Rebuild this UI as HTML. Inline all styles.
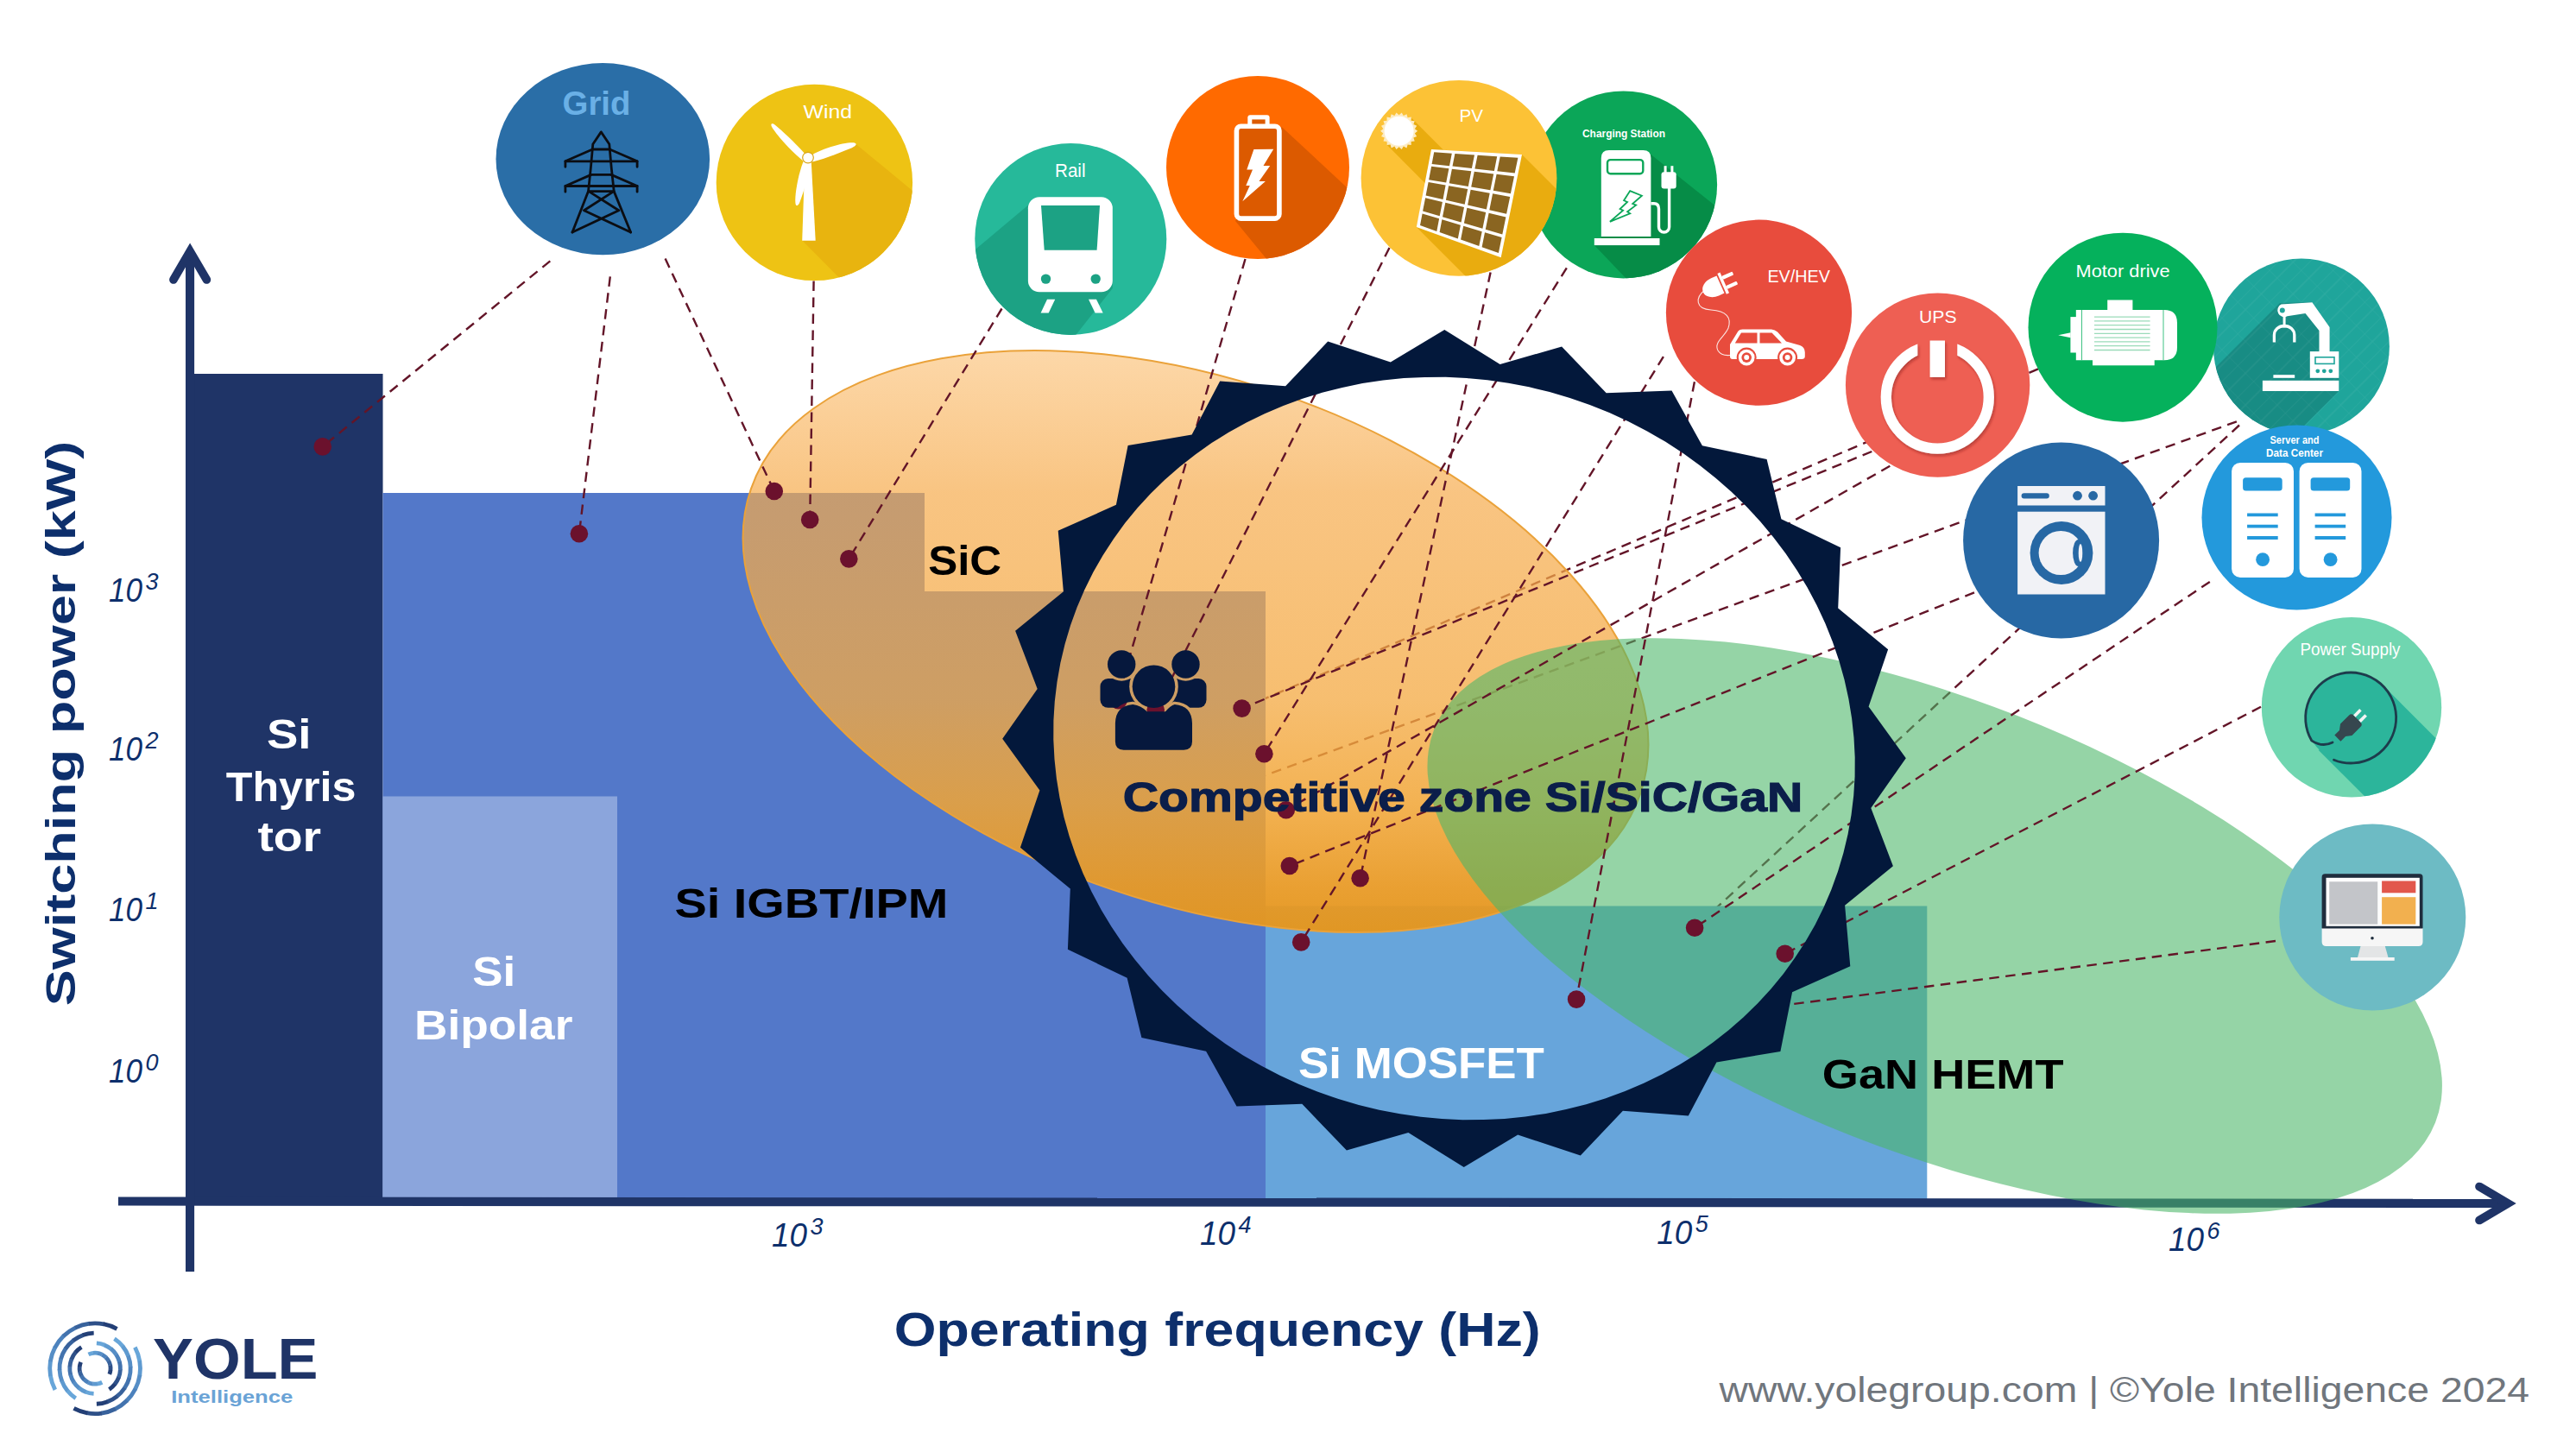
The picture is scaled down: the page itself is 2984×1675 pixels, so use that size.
<!DOCTYPE html>
<html><head><meta charset="utf-8"><title>Power device positioning</title>
<style>html,body{margin:0;padding:0;background:#fff;}body{width:2984px;height:1675px;overflow:hidden;font-family:"Liberation Sans",sans-serif;}svg{display:block}</style>
</head><body>
<svg width="2984" height="1675" viewBox="0 0 2984 1675"><defs><linearGradient id="gsic" gradientUnits="userSpaceOnUse" x1="0" y1="405" x2="0" y2="1082" gradientTransform="rotate(-18.92 1385 743)">
<stop offset="0" stop-color="rgb(250,176,82)" stop-opacity="0.50"/>
<stop offset="0.245" stop-color="rgb(246,171,76)" stop-opacity="0.70"/>
<stop offset="0.6" stop-color="rgb(244,170,68)" stop-opacity="0.765"/>
<stop offset="0.775" stop-color="rgb(241,165,53)" stop-opacity="0.855"/>
<stop offset="0.92" stop-color="rgb(232,154,38)" stop-opacity="0.945"/>
<stop offset="1" stop-color="rgb(228,150,30)" stop-opacity="0.97"/>
</linearGradient><mask id="pm" maskUnits="userSpaceOnUse" x="1260" y="740" width="160" height="140"><rect x="1260" y="740" width="160" height="140" fill="#fff"/><circle cx="1299.2" cy="769.5" r="19.3" fill="#000"/><circle cx="1373.5" cy="769.5" r="19.3" fill="#000"/><circle cx="1336.5" cy="795.2" r="28.3" fill="#000"/><path d="M1301.6,868.7 Q1291.9,868.7 1291.9,859.1 L1291.9,837.8 Q1292.4,817.4 1312.3,816 Q1322,817.4 1328.7,824.2 L1350,824.2 Q1355.8,817.4 1360.7,816 Q1380.5,817.4 1381,837.8 L1381,859.1 Q1381,868.7 1371.3,868.7 Z" fill="#000" stroke="#000" stroke-width="6.6"/></mask><clipPath id="cwind"><circle cx="943.4" cy="211.4" r="113.7"/></clipPath>
<clipPath id="crail"><circle cx="1240.3" cy="277" r="111"/></clipPath>
<clipPath id="cbat"><circle cx="1457" cy="194" r="106"/></clipPath><clipPath id="cchg"><circle cx="1880.6" cy="213.9" r="108.5"/></clipPath>
<clipPath id="cpv"><circle cx="1690" cy="206.3" r="113.4"/></clipPath>
<filter id="shd" x="-20%" y="-20%" width="140%" height="140%"><feDropShadow dx="1.5" dy="2.5" stdDeviation="1.8" flood-color="#7a1f18" flood-opacity="0.45"/></filter>
<clipPath id="cupsgap"><path d="M2130,330 H2221.3 V430 H2267.3 V330 H2360 V560 H2130 Z"/></clipPath><clipPath id="crob"><circle cx="2665.9" cy="401.5" r="102"/></clipPath>
<pattern id="hatch" width="26" height="26" patternUnits="userSpaceOnUse" patternTransform="rotate(45)"><path d="M0,0 H26 M0,0 V26 M13,0 V26" stroke="#fff" stroke-opacity="0.07" stroke-width="1.2" fill="none"/></pattern>
<clipPath id="cps"><circle cx="2724" cy="819.2" r="104.2"/></clipPath></defs>
<g id="lines-under">
<line x1="2590.9" y1="488.3" x2="1466" y2="898" stroke="#631528" stroke-width="2.4" stroke-dasharray="11.5 7.5" fill="none" />
<line x1="2594" y1="492.5" x2="1962.9" y2="1075.1" stroke="#631528" stroke-width="2.4" stroke-dasharray="11.5 7.5" fill="none" />
<line x1="2361" y1="427.4" x2="1438.6" y2="820.6" stroke="#631528" stroke-width="2.4" stroke-dasharray="11.5 7.5" fill="none" />
</g>
<rect x="215" y="433" width="228.5" height="959" fill="#1f3467"/>
<polygon points="443.5,571 1071,571 1071,685 1466,685 1466,1392 443.5,1392" fill="#5378c9"/>
<rect x="443.5" y="922.5" width="271.5" height="469" fill="#8ba5dc"/>
<rect x="1466" y="1049.5" width="766.3" height="343" fill="#67a5db"/>
<line x1="137" y1="1391.5" x2="2906" y2="1393.9" stroke="#1f3467" stroke-width="10.2"/>
<rect x="215" y="295" width="10.1" height="1178" fill="#1f3467"/>
<polyline points="2872.1,1374.6 2905,1394 2872.1,1413.4" fill="none" stroke="#1f3467" stroke-width="9.9" stroke-linecap="round" stroke-linejoin="miter" stroke-miterlimit="10"/>
<polyline points="200.9,324 220.1,291 239.4,324" fill="none" stroke="#1f3467" stroke-width="9.6" stroke-linecap="round" stroke-linejoin="miter" stroke-miterlimit="10"/>
<ellipse cx="1385" cy="743" rx="544.5" ry="303.3" transform="rotate(18.92 1385 743)" fill="url(#gsic)" stroke="#eaa23a" stroke-width="2"/>
<ellipse cx="2241.2" cy="1072.5" rx="623" ry="261.5" transform="rotate(21.44 2241.2 1072.5)" fill="rgb(75,182,104)" fill-opacity="0.59"/>
<g id="lines">
<line x1="637.3" y1="302.4" x2="373.7" y2="517.4" stroke="#631528" stroke-width="2.4" stroke-dasharray="11.5 7.5" fill="none" />
<line x1="706.8" y1="320.4" x2="670.9" y2="618.2" stroke="#631528" stroke-width="2.4" stroke-dasharray="11.5 7.5" fill="none" />
<line x1="770.6" y1="299.5" x2="896.8" y2="569" stroke="#631528" stroke-width="2.4" stroke-dasharray="11.5 7.5" fill="none" />
<line x1="942.6" y1="325.6" x2="938.2" y2="602" stroke="#631528" stroke-width="2.4" stroke-dasharray="11.5 7.5" fill="none" />
<line x1="1160.5" y1="357.5" x2="983.3" y2="647.4" stroke="#631528" stroke-width="2.4" stroke-dasharray="11.5 7.5" fill="none" />
<line x1="1442.5" y1="300" x2="1291.8" y2="818.4" stroke="#631528" stroke-width="2.4" stroke-dasharray="11.5 7.5" fill="none" />
<line x1="1609.5" y1="287" x2="1338.7" y2="822.3" stroke="#631528" stroke-width="2.4" stroke-dasharray="11.5 7.5" fill="none" />
<line x1="1726.6" y1="315.4" x2="1575.6" y2="1017.3" stroke="#631528" stroke-width="2.4" stroke-dasharray="11.5 7.5" fill="none" />
<line x1="1814.8" y1="310.3" x2="1464.4" y2="873.2" stroke="#631528" stroke-width="2.4" stroke-dasharray="11.5 7.5" fill="none" />
<line x1="1926.9" y1="413.2" x2="1507.2" y2="1091.4" stroke="#631528" stroke-width="2.4" stroke-dasharray="11.5 7.5" fill="none" />
<line x1="1962.9" y1="442.3" x2="1826.1" y2="1157.6" stroke="#631528" stroke-width="2.4" stroke-dasharray="11.5 7.5" fill="none" />
<line x1="2168.3" y1="523" x2="1438.6" y2="820.6" stroke="#631528" stroke-width="2.4" stroke-dasharray="11.5 7.5" fill="none" />
<line x1="2189.3" y1="539.8" x2="1489.8" y2="938.2" stroke="#631528" stroke-width="2.4" stroke-dasharray="11.5 7.5" fill="none" />
<line x1="2287" y1="686.3" x2="1493.8" y2="1003" stroke="#631528" stroke-width="2.4" stroke-dasharray="11.5 7.5" fill="none" />
<line x1="2559.8" y1="673.9" x2="1963.1" y2="1074.7" stroke="#631528" stroke-width="2.4" stroke-dasharray="11.5 7.5" fill="none" />
<line x1="2619" y1="818.8" x2="2067.7" y2="1104.7" stroke="#631528" stroke-width="2.4" stroke-dasharray="11.5 7.5" fill="none" />
<line x1="2636" y1="1090" x2="2070" y2="1164" stroke="#631528" stroke-width="2.4" stroke-dasharray="11.5 7.5" fill="none" />
</g>
<g id="dots" fill="#6b112d">
<circle cx="373.7" cy="517.4" r="10.3"/>
<circle cx="670.9" cy="618.2" r="10.3"/>
<circle cx="896.8" cy="569" r="10.3"/>
<circle cx="938.2" cy="602" r="10.3"/>
<circle cx="983.3" cy="647.4" r="10.3"/>
<circle cx="1438.6" cy="820.6" r="10.3"/>
<circle cx="1464.4" cy="873.2" r="10.3"/>
<circle cx="1489.8" cy="938.2" r="10.3"/>
<circle cx="1493.8" cy="1003" r="10.3"/>
<circle cx="1575.6" cy="1017.3" r="10.3"/>
<circle cx="1507.2" cy="1091.4" r="10.3"/>
<circle cx="1826.1" cy="1157.6" r="10.3"/>
<circle cx="1963.1" cy="1074.7" r="10.3"/>
<circle cx="2067.7" cy="1104.7" r="10.3"/>
<circle cx="1295.5" cy="811.2" r="10.3"/>
<circle cx="1338.7" cy="822.3" r="10.3"/>
</g>
<path d="M1673.3,382.0 L1737.6,422.1 L1809.1,401.4 L1860.7,455.2 L1936.5,452.6 L1971.9,516.3 L2046.6,532.0 L2063.4,601.3 L2132.1,634.2 L2129.2,704.4 L2187.1,752.3 L2164.6,818.6 L2207.8,878.2 L2167.3,936.1 L2192.9,1003.3 L2137.1,1048.8 L2143.3,1119.2 L2076.1,1149.2 L2062.4,1217.9 L1988.4,1230.4 L1955.8,1292.6 L1879.9,1286.8 L1830.8,1338.4 L1758.2,1314.6 L1695.7,1352.0 L1631.4,1311.9 L1559.9,1332.6 L1508.3,1278.8 L1432.5,1281.4 L1397.1,1217.7 L1322.4,1202.0 L1305.6,1132.7 L1236.9,1099.8 L1239.8,1029.6 L1181.9,981.7 L1204.4,915.4 L1161.2,855.8 L1201.7,797.9 L1176.1,730.7 L1231.9,685.2 L1225.7,614.8 L1292.9,584.8 L1306.6,516.1 L1380.6,503.6 L1413.2,441.4 L1489.1,447.2 L1538.2,395.6 L1610.8,419.4Z M1674.6,436.8 L1698.9,437.9 L1723.1,440.2 L1747.3,443.7 L1771.3,448.3 L1795.0,454.0 L1818.5,460.9 L1841.6,468.9 L1864.2,478.0 L1886.4,488.2 L1908.0,499.4 L1929.0,511.6 L1949.3,524.8 L1968.9,538.9 L1987.7,554.0 L2005.7,569.8 L2022.8,586.5 L2039.0,604.0 L2054.2,622.2 L2068.4,641.0 L2081.5,660.5 L2093.6,680.5 L2104.5,701.1 L2114.3,722.1 L2122.9,743.5 L2130.3,765.3 L2136.5,787.3 L2141.4,809.5 L2145.1,831.9 L2147.5,854.4 L2148.7,876.9 L2148.6,899.4 L2147.2,921.8 L2144.5,944.1 L2140.6,966.2 L2135.4,987.9 L2129.0,1009.4 L2121.4,1030.4 L2112.6,1051.1 L2102.6,1071.2 L2091.4,1090.7 L2079.2,1109.6 L2065.9,1127.9 L2051.5,1145.5 L2036.1,1162.2 L2019.7,1178.2 L2002.5,1193.3 L1984.3,1207.6 L1965.4,1220.9 L1945.6,1233.2 L1925.2,1244.5 L1904.1,1254.8 L1882.4,1264.0 L1860.1,1272.2 L1837.4,1279.2 L1814.2,1285.1 L1790.7,1289.9 L1766.9,1293.5 L1742.9,1295.9 L1718.7,1297.1 L1694.4,1297.2 L1670.1,1296.1 L1645.9,1293.8 L1621.7,1290.3 L1597.7,1285.7 L1574.0,1280.0 L1550.5,1273.1 L1527.4,1265.1 L1504.8,1256.0 L1482.6,1245.8 L1461.0,1234.6 L1440.0,1222.4 L1419.7,1209.2 L1400.1,1195.1 L1381.3,1180.0 L1363.3,1164.2 L1346.2,1147.5 L1330.0,1130.0 L1314.8,1111.8 L1300.6,1093.0 L1287.5,1073.5 L1275.4,1053.5 L1264.5,1032.9 L1254.7,1011.9 L1246.1,990.5 L1238.7,968.7 L1232.5,946.7 L1227.6,924.5 L1223.9,902.1 L1221.5,879.6 L1220.3,857.1 L1220.4,834.6 L1221.8,812.2 L1224.5,789.9 L1228.4,767.8 L1233.6,746.1 L1240.0,724.6 L1247.6,703.6 L1256.4,682.9 L1266.4,662.8 L1277.6,643.3 L1289.8,624.4 L1303.1,606.1 L1317.5,588.5 L1332.9,571.8 L1349.3,555.8 L1366.5,540.7 L1384.7,526.4 L1403.6,513.1 L1423.4,500.8 L1443.8,489.5 L1464.9,479.2 L1486.6,470.0 L1508.9,461.8 L1531.6,454.8 L1554.8,448.9 L1578.3,444.1 L1602.1,440.5 L1626.1,438.1 L1650.3,436.9Z" fill="#03183b" fill-rule="evenodd"/>
<g id="people" fill="#06183d">
<g mask="url(#pm)"><rect x="1274.5" y="786" width="48" height="33.8" rx="9"/><rect x="1350" y="786" width="47.5" height="33.8" rx="9"/></g>
<circle cx="1299.2" cy="769.5" r="16.2"/><circle cx="1373.5" cy="769.5" r="16.2"/>
<circle cx="1336.5" cy="795.2" r="24.8"/>
<path d="M1301.6,868.7 Q1291.9,868.7 1291.9,859.1 L1291.9,837.8 Q1292.4,817.4 1312.3,816 Q1322,817.4 1328.7,824.2 L1350,824.2 Q1355.8,817.4 1360.7,816 Q1380.5,817.4 1381,837.8 L1381,859.1 Q1381,868.7 1371.3,868.7 Z"/>
</g>
<g font-family="Liberation Sans, sans-serif">
<g transform="translate(86.7,1161.8) rotate(-90)"><text x="-3.5" y="0" font-size="48.5" fill="#0d2f6c" font-weight="bold" text-anchor="start" textLength="654.5" lengthAdjust="spacingAndGlyphs"  style="">Switching power (kW)</text></g>
<text x="1035.8" y="1559.3" font-size="56" fill="#0d2f6c" font-weight="bold" text-anchor="start" textLength="748.9" lengthAdjust="spacingAndGlyphs"  style="">Operating frequency (Hz)</text>
<text x="126" y="697" font-size="38" fill="#0d2f6c" font-style="italic" font-weight="normal" textLength="39" lengthAdjust="spacingAndGlyphs">10</text><text x="168.5" y="683" font-size="27" fill="#0d2f6c" font-style="italic" font-weight="normal">3</text>
<text x="126" y="881.3" font-size="38" fill="#0d2f6c" font-style="italic" font-weight="normal" textLength="39" lengthAdjust="spacingAndGlyphs">10</text><text x="168.5" y="867.3" font-size="27" fill="#0d2f6c" font-style="italic" font-weight="normal">2</text>
<text x="126" y="1066.6" font-size="38" fill="#0d2f6c" font-style="italic" font-weight="normal" textLength="39" lengthAdjust="spacingAndGlyphs">10</text><text x="168.5" y="1052.6" font-size="27" fill="#0d2f6c" font-style="italic" font-weight="normal">1</text>
<text x="126" y="1253.6" font-size="38" fill="#0d2f6c" font-style="italic" font-weight="normal" textLength="39" lengthAdjust="spacingAndGlyphs">10</text><text x="168.5" y="1239.6" font-size="27" fill="#0d2f6c" font-style="italic" font-weight="normal">0</text>
<text x="894.0" y="1444" font-size="38" fill="#0d2f6c" font-style="italic" font-weight="normal" textLength="41" lengthAdjust="spacingAndGlyphs">10</text><text x="938.5" y="1430" font-size="27" fill="#0d2f6c" font-style="italic" font-weight="normal">3</text>
<text x="1390.1" y="1442" font-size="38" fill="#0d2f6c" font-style="italic" font-weight="normal" textLength="41" lengthAdjust="spacingAndGlyphs">10</text><text x="1434.6" y="1428" font-size="27" fill="#0d2f6c" font-style="italic" font-weight="normal">4</text>
<text x="1919.2" y="1441.4" font-size="38" fill="#0d2f6c" font-style="italic" font-weight="normal" textLength="41" lengthAdjust="spacingAndGlyphs">10</text><text x="1963.7" y="1427.4" font-size="27" fill="#0d2f6c" font-style="italic" font-weight="normal">5</text>
<text x="2511.9" y="1448.7" font-size="38" fill="#0d2f6c" font-style="italic" font-weight="normal" textLength="41" lengthAdjust="spacingAndGlyphs">10</text><text x="2556.4" y="1434.7" font-size="27" fill="#0d2f6c" font-style="italic" font-weight="normal">6</text>
<text x="309" y="867.1" font-size="48" fill="#fff" font-weight="bold" text-anchor="start" textLength="51.5" lengthAdjust="spacingAndGlyphs"  style="">Si</text>
<text x="261.8" y="927.7" font-size="48" fill="#fff" font-weight="bold" text-anchor="start" textLength="150.5" lengthAdjust="spacingAndGlyphs"  style="">Thyris</text>
<text x="298.4" y="986.1" font-size="48" fill="#fff" font-weight="bold" text-anchor="start" textLength="73.7" lengthAdjust="spacingAndGlyphs"  style="">tor</text>
<text x="547.3" y="1141.6" font-size="49" fill="#fff" font-weight="bold" text-anchor="start" textLength="49.9" lengthAdjust="spacingAndGlyphs"  style="">Si</text>
<text x="480" y="1203.7" font-size="49" fill="#fff" font-weight="bold" text-anchor="start" textLength="183.4" lengthAdjust="spacingAndGlyphs"  style="">Bipolar</text>
<text x="781.4" y="1063" font-size="49" fill="#000" font-weight="bold" text-anchor="start" textLength="317" lengthAdjust="spacingAndGlyphs"  style="">Si IGBT/IPM</text>
<text x="1075.2" y="665.9" font-size="49" fill="#000" font-weight="bold" text-anchor="start" textLength="85" lengthAdjust="spacingAndGlyphs"  style="">SiC</text>
<text x="1300.8" y="940.2" font-size="49" fill="#0b1e4a" font-weight="bold" text-anchor="start" textLength="787.5" lengthAdjust="spacingAndGlyphs" stroke="#0b1e4a" stroke-width="1.2" style="">Competitive zone Si/SiC/GaN</text>
<text x="1504" y="1249" font-size="50" fill="#fff" font-weight="bold" text-anchor="start" textLength="284.9" lengthAdjust="spacingAndGlyphs"  style="">Si MOSFET</text>
<text x="2110.8" y="1260.7" font-size="49" fill="#000" font-weight="bold" text-anchor="start" textLength="279.7" lengthAdjust="spacingAndGlyphs"  style="">GaN HEMT</text>
<text x="1991.6" y="1623.6" font-size="40" fill="#70767d" font-weight="normal" text-anchor="start" textLength="938.4" lengthAdjust="spacingAndGlyphs"  style="">www.yolegroup.com | ©Yole Intelligence 2024</text>
<text x="177.1" y="1596.9" font-size="66" fill="#1f3467" font-weight="bold" text-anchor="start" textLength="191.4" lengthAdjust="spacingAndGlyphs"  style="">YOLE</text>
<text x="198.2" y="1625.3" font-size="21" fill="#6aa3d6" font-weight="bold" text-anchor="start" textLength="141.1" lengthAdjust="spacingAndGlyphs"  style="">Intelligence</text>
</g>
<g id="grid"><ellipse cx="698.3" cy="184.2" rx="123.8" ry="111.1" fill="#2a6ea7"/>
<text font-family="Liberation Sans, sans-serif" x="651.5" y="133" font-size="39" fill="#6ab0e6" font-weight="bold" text-anchor="start" textLength="79" lengthAdjust="spacingAndGlyphs">Grid</text>
<g fill="none" stroke="#0b0d12" stroke-width="2.8" stroke-linejoin="round" stroke-linecap="round">
<path d="M696.3,152.9 L686.8,167 L684.3,195 L681.5,221.6 L663,269 M696.3,152.9 L705.8,167 L708.3,195 L711.2,221.6 L730.6,269"/>
<path d="M686.3,173 H706.3 M654.9,186.8 H738.1 M684.8,202.4 H708 M654.9,215.5 H738.1 M682,221.6 H711"/>
<path d="M686.3,173 L654.9,186.8 V193.3 M706.3,173 L738.1,186.8 V193.3 M684.8,202.4 L654.9,215.5 V222.2 M708,202.4 L738.1,215.5 V222.2"/>
<path d="M682,221.6 L716.8,243.8 M711,221.6 L676.5,243.8 L730.6,269 M716.8,243.8 L663,269"/>
</g></g>
<g id="wind"><circle cx="943.4" cy="211.4" r="113.7" fill="#eec314"/>
<polygon clip-path="url(#cwind)" points="936,182.6 991,166.4 1080,240 1000,350 929.5,278.7 936,200" fill="#e8b40f"/>
<text font-family="Liberation Sans, sans-serif" x="930.5" y="137.3" font-size="22.5" fill="#fff" font-weight="normal" text-anchor="start" textLength="56.5" lengthAdjust="spacingAndGlyphs">Wind</text>
<g fill="#fff">
<polygon points="932.3,188 939.8,188 944.7,278.7 929.2,278.7"/>
<path d="M936,182.6 C926,170 905,150 896,143.5 C892,142 893,146 896,150 C905,163 920,178 931,187 Z"/>
<path d="M936,182.6 C950,172 980,164 990,165.5 C994,167 990,170 985,172 C970,178 950,186 938,188 Z"/>
<path d="M932,184 C926,196 920,225 921.5,236 C922.5,240 925,238 926.5,234 C931,222 938,200 939,188 Z"/>
<circle cx="936" cy="182.6" r="6.3" stroke="#d9a514" stroke-width="1.2"/>
</g></g>
<g id="rail"><circle cx="1240.3" cy="277" r="111" fill="#26b99a"/>
<polygon clip-path="url(#crail)" points="1193,236 1100,314 1100,420 1221,420 1288.8,334 1288.8,300" fill="#1ca284"/>
<text font-family="Liberation Sans, sans-serif" x="1222" y="205" font-size="21.5" fill="#fff" font-weight="normal" text-anchor="start" textLength="35.5" lengthAdjust="spacingAndGlyphs">Rail</text>
<rect x="1190.9" y="228.2" width="97.9" height="110.1" rx="13" fill="#fff"/>
<polygon points="1206,238 1274,238 1270.6,289.8 1209.7,289.8" fill="#1ca284"/>
<circle cx="1211.5" cy="323.1" r="5.7" fill="#1ca284"/><circle cx="1269.2" cy="323.1" r="5.7" fill="#1ca284"/>
<polygon points="1213,346.8 1222.2,346.8 1214.7,362.5 1205.6,362.5" fill="#fff"/>
<polygon points="1261,346.8 1270,346.8 1277.7,362.5 1268.6,362.5" fill="#fff"/></g>
<g id="battery"><circle cx="1457" cy="194" r="106" fill="#ff6a00"/>
<polygon clip-path="url(#cbat)" points="1484.7,147 1600,254 1500,340 1431,256" fill="#dc5a00"/>
<rect x="1445.3" y="133.3" width="25.3" height="16" rx="3" fill="#fff"/><rect x="1450.3" y="138.4" width="15.3" height="6" fill="#dc5a00"/>
<rect x="1432.4" y="146.2" width="49.5" height="106.9" rx="5" fill="#dc5a00" stroke="#fff" stroke-width="5.6"/>
<polygon fill="#fff" points="1452.4,173.1 1475.2,172.7 1463.5,191.9 1471.2,191.9 1458.5,210.1 1465.9,210.1 1439.3,233.3 1447.8,215.1 1443.3,215.1 1451,196.5 1444.3,196.5"/></g><g id="charging"><circle cx="1880.6" cy="213.9" r="108.5" fill="#0ba658"/>
<polygon clip-path="url(#cchg)" points="1906,174 1912.4,179 2030,272.6 1910,350 1846.8,284.1 1854.8,276 1854.8,200" fill="#068c47"/>
<text font-family="Liberation Sans, sans-serif" x="1833" y="158.9" font-size="12.5" fill="#fff" font-weight="bold" text-anchor="start" textLength="96" lengthAdjust="spacingAndGlyphs">Charging Station</text>
<path d="M1854.8,274 V183 Q1854.8,174 1863.8,174 H1903.4 Q1912.4,174 1912.4,183 V274 Z" fill="#fff"/>
<rect x="1846.8" y="276" width="75.7" height="8.1" fill="#fff"/>
<rect x="1862" y="185.1" width="41.3" height="16.2" rx="3.5" fill="none" stroke="#0ba658" stroke-width="2.4"/>
<polygon points="1888.2,221.1 1901.9,226.7 1891.2,236 1895.2,237.6 1885.1,245.3 1888.2,247.3 1864.9,256.8 1880.1,243.7 1876.6,242.1 1885.1,234 1881.1,232.2" fill="none" stroke="#0ba658" stroke-width="1.8" stroke-linejoin="miter"/>
<path d="M1912.4,235.8 H1916 Q1921.5,235.8 1921.5,242 V263 A6,6 0 0 0 1933.6,263 V216" fill="none" stroke="#fff" stroke-width="3.4"/>
<rect x="1924.5" y="199.2" width="17.2" height="19.2" rx="3" fill="#fff"/>
<rect x="1927.6" y="192.2" width="3" height="8" fill="#fff"/><rect x="1935.4" y="192.2" width="3" height="8" fill="#fff"/></g>
<g id="pv"><circle cx="1690" cy="206.3" r="113.4" fill="#fcc236"/>
<g clip-path="url(#cpv)" fill="#e9ac0f"><polygon points="1635.4,137 1760,262 1730,292 1605.6,166.8"/><polygon points="1660,173 1763,179 1883,299 1858.7,418 1760.8,383 1640.8,262.9"/></g>
<text font-family="Liberation Sans, sans-serif" x="1690.5" y="140.7" font-size="20.5" fill="#fff" font-weight="normal" text-anchor="start" textLength="27.5" lengthAdjust="spacingAndGlyphs">PV</text>
<polygon points="1642.1,151.8 1638.9,154.4 1641.2,157.9 1637.4,159.5 1638.7,163.4 1634.6,163.9 1634.7,168.0 1630.6,167.4 1629.5,171.4 1625.8,169.6 1623.7,173.1 1620.6,170.3 1617.5,173.1 1615.4,169.6 1611.7,171.4 1610.6,167.4 1606.5,168.0 1606.6,163.9 1602.5,163.4 1603.8,159.5 1600.0,157.9 1602.3,154.4 1599.1,151.8 1602.3,149.2 1600.0,145.7 1603.8,144.1 1602.5,140.2 1606.6,139.7 1606.5,135.6 1610.6,136.2 1611.7,132.2 1615.4,134.0 1617.5,130.5 1620.6,133.3 1623.7,130.5 1625.8,134.0 1629.5,132.2 1630.6,136.2 1634.7,135.6 1634.6,139.7 1638.7,140.2 1637.4,144.1 1641.2,145.7 1638.9,149.2" fill="#fdecc4"/><circle cx="1620.6" cy="151.8" r="17" fill="#fff"/>
<polygon points="1658.0,173.0 1763.0,179.0 1738.7,298.2 1640.8,262.9" fill="#fff"/>
<path d="M1661.2,176.3 L1681.8,177.7 L1679.0,192.2 L1658.6,190.0Z M1658.1,192.8 L1678.4,195.3 L1675.2,211.6 L1655.1,208.2Z M1654.6,211.0 L1674.6,214.6 L1671.5,230.9 L1651.6,226.4Z M1651.1,229.2 L1670.9,233.9 L1667.7,250.3 L1648.1,244.6Z M1647.6,247.4 L1667.1,253.3 L1664.3,267.9 L1645.0,261.1Z M1685.4,177.9 L1708.0,179.4 L1704.9,195.1 L1682.5,192.6Z M1681.9,195.7 L1704.3,198.3 L1700.8,215.9 L1678.7,212.2Z M1678.1,215.2 L1700.2,219.1 L1696.7,236.7 L1674.9,231.7Z M1674.3,234.8 L1696.0,240.0 L1692.6,257.5 L1671.0,251.3Z M1670.4,254.3 L1691.9,260.8 L1688.8,276.4 L1667.6,269.0Z M1711.6,179.7 L1734.2,181.2 L1730.9,197.9 L1708.4,195.5Z M1707.8,198.7 L1730.2,201.4 L1726.4,220.2 L1704.2,216.5Z M1703.6,219.8 L1725.7,223.7 L1721.9,242.5 L1700.1,237.5Z M1699.4,240.8 L1721.2,246.0 L1717.4,264.8 L1695.9,258.5Z M1695.2,261.8 L1716.7,268.2 L1713.3,285.0 L1692.1,277.6Z M1737.7,181.4 L1758.4,182.8 L1754.7,200.6 L1734.3,198.3Z M1733.6,201.8 L1754.0,204.3 L1749.9,224.2 L1729.8,220.8Z M1729.1,224.3 L1749.2,227.9 L1745.1,247.8 L1725.3,243.3Z M1724.6,246.8 L1744.4,251.5 L1740.3,271.4 L1720.8,265.7Z M1720.0,269.2 L1739.6,275.1 L1735.9,292.9 L1716.6,286.2Z" fill="#8a6521"/></g>
<g id="ev"><circle cx="2037.5" cy="362.2" r="107.6" fill="#e84c3d"/>
<text font-family="Liberation Sans, sans-serif" x="2047.4" y="327.2" font-size="19.5" fill="#fff" font-weight="normal" text-anchor="start" textLength="72.5" lengthAdjust="spacingAndGlyphs">EV/HEV</text>
<g transform="translate(1993,329.5) rotate(-24)" fill="#fff">
<path d="M0,-11 H-7 A15,11 0 0 0 -7,11 H0 Z"/><rect x="1.8" y="-13" width="3.4" height="26"/><rect x="5" y="-8.2" width="13.5" height="4.2" rx="1"/><rect x="5" y="4" width="13.5" height="4.2" rx="1"/></g>
<path d="M1975.5,335.5 C1963,345 1964,358 1982,359 C2000,360 2006,368 2002,380 C1998,390 1985,396 1990,406 C1993,411 1999,412 2004,411.5" fill="none" stroke="#fff" stroke-opacity="0.85" stroke-width="1.1"/>
<path d="M2004,413 V399 L2013.5,383.5 Q2015,381.4 2018.5,381.4 H2052 Q2056,381.6 2059,384.5 L2069,395.5 L2085,400 Q2090.6,402 2090.8,408 V413 Q2090.8,416 2087,416 H2007 Q2004,416 2004,413 Z" fill="#fff"/>
<polygon points="2017,385.5 2035.5,385.5 2035.5,397.5 2009.8,397.5" fill="#e84c3d"/>
<polygon points="2038.5,385.5 2052.5,385.5 2064,397.5 2038.5,397.5" fill="#e84c3d"/>
<circle cx="2023.2" cy="414.1" r="11.5" fill="#e84c3d"/><circle cx="2070.6" cy="414.1" r="11.5" fill="#e84c3d"/>
<circle cx="2023.2" cy="414.1" r="9.4" fill="#fff"/><circle cx="2070.6" cy="414.1" r="9.4" fill="#fff"/>
<circle cx="2023.2" cy="414.1" r="5.8" fill="#e84c3d"/><circle cx="2070.6" cy="414.1" r="5.8" fill="#e84c3d"/>
<circle cx="2023.2" cy="414.1" r="3" fill="#fff"/><circle cx="2070.6" cy="414.1" r="3" fill="#fff"/></g>
<g id="ups"><circle cx="2244.6" cy="446.1" r="106.7" fill="#ee5f53"/>
<text font-family="Liberation Sans, sans-serif" x="2223.1" y="374.3" font-size="21" fill="#fff" font-weight="normal" text-anchor="start" textLength="43.5" lengthAdjust="spacingAndGlyphs">UPS</text>
<g filter="url(#shd)"><g clip-path="url(#cupsgap)"><circle cx="2244.3" cy="460.1" r="59.5" fill="none" stroke="#fff" stroke-width="12.3"/></g><rect x="2235.6" y="394.5" width="17.4" height="42.4" fill="#fff"/></g></g><g id="robot"><circle cx="2665.9" cy="401.5" r="102" fill="#1fa59b"/>
<polygon clip-path="url(#crob)" points="2641,351 2678,350 2698.6,379 2698.6,407 2709.3,407 2709.3,453 2600,562 2480,562 2560,432" fill="#188c84"/>
<circle cx="2665.9" cy="401.5" r="102" fill="url(#hatch)"/>
<g fill="#fff">
<rect x="2620.9" y="440.8" width="88.4" height="12.2"/><rect x="2633.4" y="434.2" width="24.8" height="3.6"/>
<rect x="2675.8" y="407.1" width="33.5" height="30.7"/>
<path d="M2686.5,408 V383 L2670.5,363 L2649.5,366.3 A7.6,7.6 0 0 1 2642.5,352.5 L2678.4,350.2 L2698.6,379 V408 Z"/>
<rect x="2644.6" y="366" width="3" height="13.5"/>
<path d="M2634.4,396.5 V388 A11.7,10.5 0 0 1 2657.8,388 V396.5" fill="none" stroke="#fff" stroke-width="3.3"/>
</g>
<circle cx="2643.8" cy="359.6" r="3" fill="#1fa59b"/>
<rect x="2682" y="413.8" width="22" height="7.6" fill="none" stroke="#1fa59b" stroke-width="1.6"/>
<circle cx="2684.8" cy="429.8" r="2.4" fill="#1fa59b"/><circle cx="2692.3" cy="429.8" r="2.4" fill="#1fa59b"/><circle cx="2699.8" cy="429.8" r="2.4" fill="#1fa59b"/></g>
<g id="motor"><circle cx="2459" cy="379.2" r="109.5" fill="#05b15c"/>
<text font-family="Liberation Sans, sans-serif" x="2404.5" y="321.1" font-size="20" fill="#fff" font-weight="normal" text-anchor="start" textLength="109" lengthAdjust="spacingAndGlyphs">Motor drive</text>
<g fill="#fff"><path d="M2404.8,359 H2507 Q2522,359 2522,374 V402.2 Q2522,417.2 2507,417.2 H2404.8 Z"/>
<rect x="2441.2" y="347.5" width="29.2" height="12"/><rect x="2398.4" y="367.1" width="7" height="41.4"/>
<polygon points="2384.2,388.3 2398.6,385.2 2398.6,391.2"/><rect x="2424" y="417" width="71.7" height="6.3"/></g>
<path d="M2426,367.1 H2490.6 M2426,371.9 H2490.6 M2426,376.7 H2490.6 M2426,381.5 H2490.6 M2426,386.3 H2490.6 M2426,391.1 H2490.6 M2426,395.9 H2490.6 M2426,400.7 H2490.6 M2426,405.5 H2490.6 " stroke="#9adbb9" stroke-width="1.3" fill="none"/>
<path d="M2411.5,359 V417.2 M2506,359 V417.2" stroke="#3fc283" stroke-width="1" fill="none"/></g>
<g id="wm"><circle cx="2387.6" cy="626" r="113.5" fill="#2768a4"/>
<rect x="2337.1" y="563" width="101.4" height="22.5" fill="#f1f2f6"/><rect x="2337.1" y="592.7" width="101.4" height="95.8" fill="#f1f2f6"/>
<rect x="2341.6" y="571.3" width="32.2" height="6.1" rx="3" fill="#2768a4"/><circle cx="2406.5" cy="574.2" r="5.4" fill="#2768a4"/><circle cx="2424.6" cy="574.2" r="5.4" fill="#2768a4"/>
<circle cx="2388" cy="640.5" r="36.4" fill="#2768a4"/><circle cx="2387.2" cy="640.5" r="25.6" fill="#f1f2f6"/>
<ellipse cx="2407.5" cy="640.5" rx="6.4" ry="15.6" fill="#2768a4"/><ellipse cx="2410" cy="640.5" rx="2.3" ry="10.6" fill="#f1f2f6"/></g>
<g id="server"><ellipse cx="2660.5" cy="599.5" rx="110" ry="107" fill="#2399dc"/>
<text font-family="Liberation Sans, sans-serif" x="2658" y="513.8" font-size="12.5" fill="#fff" font-weight="bold" text-anchor="middle" textLength="57" lengthAdjust="spacingAndGlyphs">Server and</text>
<text font-family="Liberation Sans, sans-serif" x="2658" y="528.9" font-size="12.5" fill="#fff" font-weight="bold" text-anchor="middle" textLength="66" lengthAdjust="spacingAndGlyphs">Data Center</text>
<rect x="2585.1" y="535.9" width="71.9" height="133" rx="10" fill="#fff"/><rect x="2598.1" y="553.3" width="45.6" height="15.3" rx="3.5" fill="#2399dc"/><path d="M2603.1,596.4 h35.6 M2603.1,609.7 h35.6 M2603.1,623 h35.6" stroke="#2399dc" stroke-width="3.8" fill="none"/><circle cx="2621.1" cy="648.2" r="7.9" fill="#2399dc"/>
<rect x="2663.6" y="535.9" width="71.9" height="133" rx="10" fill="#fff"/><rect x="2676.6" y="553.3" width="45.6" height="15.3" rx="3.5" fill="#2399dc"/><path d="M2681.6,596.4 h35.6 M2681.6,609.7 h35.6 M2681.6,623 h35.6" stroke="#2399dc" stroke-width="3.8" fill="none"/><circle cx="2699.6" cy="648.2" r="7.9" fill="#2399dc"/>
</g>
<g id="ps"><circle cx="2724" cy="819.2" r="104.2" fill="#70d6b0"/>
<polygon clip-path="url(#cps)" points="2760.6,794.1 2910.6,944.1 2835.8,1018.9 2685.8,868.9" fill="#2cb59b"/>
<circle cx="2723.2" cy="831.5" r="52" fill="#2cb59b"/>
<text font-family="Liberation Sans, sans-serif" x="2664.5" y="759" font-size="20" fill="#fff" font-weight="normal" text-anchor="start" textLength="116" lengthAdjust="spacingAndGlyphs">Power Supply</text>
<path d="M2703.5,880.2 A52.5,52.5 0 1 0 2677.7,857.8 Q2690,866 2702,860" fill="none" stroke="#1d3c4c" stroke-width="2.8" stroke-linecap="round"/>
<g transform="translate(2722,841) rotate(-45)">
<path d="M-20,-5 H-12 L-6,-9.5 H8 Q12,-9.5 12,-5.5 V5.5 Q12,9.5 8,9.5 H-6 L-12,5 H-20 Z" fill="#36474f"/>
<rect x="12" y="-6.2" width="10" height="3.6" fill="#f4f4f4"/><rect x="12" y="2.6" width="10" height="3.6" fill="#f4f4f4"/></g></g>
<g id="monitor"><circle cx="2748.3" cy="1062.5" r="108" fill="#6dbbc4"/>
<path d="M2689.6,1075 H2806.5 V1091 Q2806.5,1096 2801.5,1096 H2694.6 Q2689.6,1096 2689.6,1091 Z" fill="#f6f6f6"/>
<path d="M2689.6,1075.5 V1016 Q2689.6,1012.3 2693.3,1012.3 H2802.8 Q2806.5,1012.3 2806.5,1016 V1075.5 Z" fill="#1f2d3d"/>
<rect x="2694.5" y="1016.8" width="108.3" height="56" fill="#fdfdfd"/>
<rect x="2698.2" y="1021.3" width="56" height="49.3" fill="#c3c5c9"/><rect x="2759.1" y="1020.5" width="39.2" height="13.8" fill="#e2574c"/><rect x="2759.1" y="1039.2" width="39.2" height="31.4" fill="#f2b04f"/>
<circle cx="2748" cy="1086.7" r="1.8" fill="#1f2d3d"/>
<polygon points="2734.5,1096 2762.8,1096 2766.5,1109 2731,1109" fill="#e3e5e6"/><rect x="2722.9" y="1109" width="50.8" height="3.8" fill="#f6f6f6"/></g>
<g id="logo">
<g fill="none" stroke-width="4.8"><path d="M63.83,1609.80 A52.4,52.4 0 0 1 58.32,1593.24" stroke="rgb(104, 166, 217)"/><path d="M58.44,1593.96 A52.4,52.4 0 0 1 58.43,1576.51" stroke="rgb(94, 154, 208)"/><path d="M58.31,1577.23 A52.4,52.4 0 0 1 63.80,1560.66" stroke="rgb(86, 142, 198)"/><path d="M63.46,1561.31 A52.4,52.4 0 0 1 73.90,1547.32" stroke="rgb(76, 130, 189)"/><path d="M73.37,1547.83 A52.4,52.4 0 0 1 87.69,1537.84" stroke="rgb(67, 115, 174)"/><path d="M87.03,1538.15 A52.4,52.4 0 0 1 103.76,1533.19" stroke="rgb(56, 98, 156)"/><path d="M103.03,1533.28 A52.4,52.4 0 0 1 120.48,1533.84" stroke="rgb(46, 80, 136)"/><path d="M119.76,1533.70 A52.4,52.4 0 0 1 135.50,1539.37" stroke="rgb(35, 63, 118)"/></g>
<g fill="none" stroke-width="4.8"><path d="M156.37,1560.60 A52.4,52.4 0 0 1 161.86,1577.05" stroke="rgb(104, 166, 217)"/><path d="M161.74,1576.33 A52.4,52.4 0 0 1 161.81,1593.67" stroke="rgb(94, 154, 208)"/><path d="M161.92,1592.95 A52.4,52.4 0 0 1 156.56,1609.44" stroke="rgb(86, 142, 198)"/><path d="M156.89,1608.79 A52.4,52.4 0 0 1 146.63,1622.77" stroke="rgb(76, 130, 189)"/><path d="M147.15,1622.25 A52.4,52.4 0 0 1 133.03,1632.32" stroke="rgb(67, 115, 174)"/><path d="M133.69,1631.99 A52.4,52.4 0 0 1 117.12,1637.13" stroke="rgb(56, 98, 156)"/><path d="M117.85,1637.02 A52.4,52.4 0 0 1 100.51,1636.71" stroke="rgb(46, 80, 136)"/><path d="M101.23,1636.84 A52.4,52.4 0 0 1 85.50,1631.47" stroke="rgb(35, 63, 118)"/></g>
<g fill="none" stroke-width="4.8"><path d="M87.72,1619.67 A41.1,41.1 0 0 1 77.75,1610.55" stroke="rgb(104, 166, 217)"/><path d="M78.10,1611.00 A41.1,41.1 0 0 1 71.47,1599.22" stroke="rgb(94, 154, 208)"/><path d="M71.67,1599.76 A41.1,41.1 0 0 1 69.02,1586.51" stroke="rgb(86, 142, 198)"/><path d="M69.04,1587.08 A41.1,41.1 0 0 1 70.65,1573.66" stroke="rgb(76, 130, 189)"/><path d="M70.49,1574.22 A41.1,41.1 0 0 1 76.20,1561.97" stroke="rgb(67, 115, 174)"/><path d="M75.88,1562.44 A41.1,41.1 0 0 1 85.11,1552.57" stroke="rgb(56, 98, 156)"/><path d="M84.66,1552.92 A41.1,41.1 0 0 1 96.50,1546.42" stroke="rgb(46, 80, 136)"/><path d="M95.96,1546.61 A41.1,41.1 0 0 1 108.67,1544.13" stroke="rgb(35, 63, 118)"/></g>
<g fill="none" stroke-width="4.8"><path d="M132.48,1550.73 A41.1,41.1 0 0 1 142.43,1559.82" stroke="rgb(104, 166, 217)"/><path d="M142.07,1559.37 A41.1,41.1 0 0 1 148.70,1571.09" stroke="rgb(94, 154, 208)"/><path d="M148.50,1570.55 A41.1,41.1 0 0 1 151.17,1583.76" stroke="rgb(86, 142, 198)"/><path d="M151.15,1583.18 A41.1,41.1 0 0 1 149.60,1596.56" stroke="rgb(76, 130, 189)"/><path d="M149.75,1596.01 A41.1,41.1 0 0 1 144.13,1608.25" stroke="rgb(67, 115, 174)"/><path d="M144.45,1607.77 A41.1,41.1 0 0 1 135.30,1617.66" stroke="rgb(56, 98, 156)"/><path d="M135.76,1617.31 A41.1,41.1 0 0 1 124.00,1623.88" stroke="rgb(46, 80, 136)"/><path d="M124.54,1623.68 A41.1,41.1 0 0 1 111.89,1626.26" stroke="rgb(35, 63, 118)"/></g>
<g fill="none" stroke-width="4.8"><path d="M108.57,1614.46 A29.3,29.3 0 0 1 99.19,1612.39" stroke="rgb(104, 166, 217)"/><path d="M99.57,1612.54 A29.3,29.3 0 0 1 91.30,1607.67" stroke="rgb(94, 154, 208)"/><path d="M91.61,1607.93 A29.3,29.3 0 0 1 85.26,1600.73" stroke="rgb(86, 142, 198)"/><path d="M85.47,1601.08 A29.3,29.3 0 0 1 81.66,1592.26" stroke="rgb(76, 130, 189)"/><path d="M81.77,1592.66 A29.3,29.3 0 0 1 80.88,1583.10" stroke="rgb(67, 115, 174)"/><path d="M80.85,1583.51 A29.3,29.3 0 0 1 82.97,1574.14" stroke="rgb(56, 98, 156)"/><path d="M82.82,1574.52 A29.3,29.3 0 0 1 87.73,1566.27" stroke="rgb(46, 80, 136)"/><path d="M87.47,1566.59 A29.3,29.3 0 0 1 94.36,1560.49" stroke="rgb(35, 63, 118)"/></g>
<g fill="none" stroke-width="4.8"><path d="M111.89,1555.95 A29.3,29.3 0 0 1 121.13,1558.06" stroke="rgb(104, 166, 217)"/><path d="M120.75,1557.90 A29.3,29.3 0 0 1 128.90,1562.73" stroke="rgb(94, 154, 208)"/><path d="M128.59,1562.47 A29.3,29.3 0 0 1 134.88,1569.56" stroke="rgb(86, 142, 198)"/><path d="M134.66,1569.22 A29.3,29.3 0 0 1 138.47,1577.89" stroke="rgb(76, 130, 189)"/><path d="M138.37,1577.49 A29.3,29.3 0 0 1 139.35,1586.92" stroke="rgb(67, 115, 174)"/><path d="M139.37,1586.51 A29.3,29.3 0 0 1 137.42,1595.78" stroke="rgb(56, 98, 156)"/><path d="M137.57,1595.40 A29.3,29.3 0 0 1 132.87,1603.63" stroke="rgb(46, 80, 136)"/><path d="M133.13,1603.31 A29.3,29.3 0 0 1 126.48,1609.49" stroke="rgb(35, 63, 118)"/></g>
<g fill="none" stroke-width="4.8"><path d="M118.27,1601.24 A18,18 0 0 1 112.78,1603.00" stroke="rgb(104, 166, 217)"/><path d="M113.03,1602.96 A18,18 0 0 1 107.27,1602.98" stroke="rgb(94, 154, 208)"/><path d="M107.52,1603.01 A18,18 0 0 1 102.02,1601.28" stroke="rgb(86, 142, 198)"/><path d="M102.24,1601.40 A18,18 0 0 1 97.53,1598.08" stroke="rgb(76, 130, 189)"/><path d="M97.71,1598.26 A18,18 0 0 1 94.22,1593.67" stroke="rgb(67, 115, 174)"/><path d="M94.34,1593.89 A18,18 0 0 1 92.40,1588.46" stroke="rgb(56, 98, 156)"/><path d="M92.45,1588.71 A18,18 0 0 1 92.24,1582.95" stroke="rgb(46, 80, 136)"/><path d="M92.21,1583.20 A18,18 0 0 1 93.66,1577.88" stroke="rgb(35, 63, 118)"/></g>
<g fill="none" stroke-width="4.8"><path d="M102.49,1568.89 A18,18 0 0 1 107.88,1567.34" stroke="rgb(104, 166, 217)"/><path d="M107.63,1567.37 A18,18 0 0 1 113.24,1567.48" stroke="rgb(94, 154, 208)"/><path d="M112.99,1567.43 A18,18 0 0 1 118.32,1569.19" stroke="rgb(86, 142, 198)"/><path d="M118.10,1569.07 A18,18 0 0 1 122.67,1572.32" stroke="rgb(76, 130, 189)"/><path d="M122.49,1572.14 A18,18 0 0 1 125.91,1576.59" stroke="rgb(67, 115, 174)"/><path d="M125.79,1576.37 A18,18 0 0 1 127.74,1581.63" stroke="rgb(56, 98, 156)"/><path d="M127.69,1581.38 A18,18 0 0 1 128.01,1586.98" stroke="rgb(46, 80, 136)"/><path d="M128.03,1586.73 A18,18 0 0 1 126.79,1591.94" stroke="rgb(35, 63, 118)"/></g>
</g>
</svg>
</body></html>
